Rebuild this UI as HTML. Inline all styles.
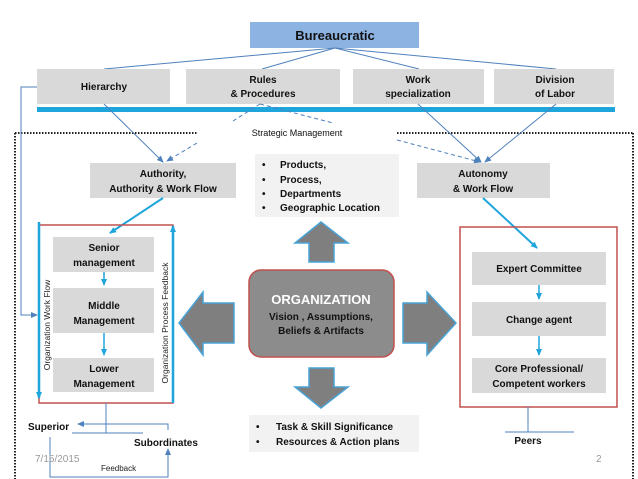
<!DOCTYPE html>
<html><head><meta charset="utf-8"><style>
html,body{margin:0;padding:0;background:#fff;}
svg{display:block;font-family:"Liberation Sans",Arial,sans-serif;}
.b{font-weight:bold;font-size:10px;fill:#111;}
</style></head><body>
<svg width="638" height="479" viewBox="0 0 638 479" xmlns="http://www.w3.org/2000/svg">
<defs>
<marker id="a" markerWidth="8" markerHeight="8" refX="6" refY="3" orient="auto" markerUnits="userSpaceOnUse"><path d="M0,0 L7,3 L0,6 z" fill="#4f81bd"/></marker>
<marker id="c" markerWidth="8" markerHeight="8" refX="6" refY="3" orient="auto" markerUnits="userSpaceOnUse"><path d="M0,0 L7,3 L0,6 z" fill="#1ea5dc"/></marker>
</defs>
<!-- dotted frame -->
<g stroke="#222" stroke-width="2" stroke-dasharray="1.5,1.5" fill="none">
<line x1="15" y1="133" x2="197" y2="133"/><line x1="397" y1="133" x2="633" y2="133"/>
<line x1="15" y1="133" x2="15" y2="479"/><line x1="633" y1="133" x2="633" y2="479"/>
</g>
<!-- top -->
<rect x="250" y="22" width="169" height="26" fill="#8db3e2"/>
<text x="335" y="40" text-anchor="middle" font-weight="bold" font-size="13" fill="#111">Bureaucratic</text>
<g stroke="#4f81bd" stroke-width="1" fill="none">
<line x1="335" y1="48" x2="104" y2="69"/><line x1="335" y1="48" x2="262" y2="69"/>
<line x1="335" y1="48" x2="419" y2="69"/><line x1="335" y1="48" x2="556" y2="69"/>
</g>
<g fill="#d9d9d9">
<rect x="37" y="69" width="133" height="35"/><rect x="186" y="69" width="154" height="35"/>
<rect x="353" y="69" width="131" height="35"/><rect x="494" y="69" width="120" height="35"/>
</g>
<text class="b" x="104" y="90" text-anchor="middle">Hierarchy</text>
<text class="b" x="263" y="83" text-anchor="middle">Rules</text><text class="b" x="263" y="97" text-anchor="middle">&amp; Procedures</text>
<text class="b" x="418" y="83" text-anchor="middle">Work</text><text class="b" x="418" y="97" text-anchor="middle">specialization</text>
<text class="b" x="555" y="83" text-anchor="middle">Division</text><text class="b" x="555" y="97" text-anchor="middle">of Labor</text>
<rect x="37" y="107" width="578" height="5" fill="#1ea5dc"/>
<text x="297" y="136" text-anchor="middle" font-size="9" fill="#111">Strategic Management</text>
<!-- connectors -->
<g stroke="#4f81bd" stroke-width="1" fill="none">
<line x1="104" y1="104" x2="163" y2="162" marker-end="url(#a)"/>
<line x1="418" y1="104" x2="481" y2="162" marker-end="url(#a)"/>
<line x1="556" y1="104" x2="485" y2="162" marker-end="url(#a)"/>
<g stroke-dasharray="4,3">
<line x1="197" y1="143" x2="167" y2="161" marker-end="url(#a)"/>
<line x1="260" y1="104" x2="233" y2="121"/><line x1="260" y1="104" x2="333" y2="123"/>
<line x1="397" y1="140" x2="480" y2="162" marker-end="url(#a)"/>
</g>
<polyline points="37,87 21,87 21,315 37,315" marker-end="url(#a)"/>
</g>
<!-- second row -->
<rect x="90" y="163" width="146" height="35" fill="#d9d9d9"/>
<text class="b" x="163" y="177" text-anchor="middle">Authority,</text><text class="b" x="163" y="192" text-anchor="middle">Authority &amp; Work Flow</text>
<rect x="417" y="163" width="133" height="35" fill="#d9d9d9"/>
<text class="b" x="483" y="177" text-anchor="middle">Autonomy</text><text class="b" x="483" y="192" text-anchor="middle">&amp; Work Flow</text>
<rect x="255" y="154" width="144" height="63" fill="#f2f2f2"/>
<g class="b"><text x="262" y="168">•</text><text x="280" y="168">Products,</text>
<text x="262" y="183">•</text><text x="280" y="183">Process,</text>
<text x="262" y="197">•</text><text x="280" y="197">Departments</text>
<text x="262" y="211">•</text><text x="280" y="211">Geographic Location</text></g>
<g stroke="#1ea5dc" stroke-width="2" fill="none">
<line x1="163" y1="198" x2="110" y2="233" marker-end="url(#c)"/>
<line x1="483" y1="198" x2="537" y2="248" marker-end="url(#c)"/>
</g>
<!-- left panel -->
<rect x="39" y="225" width="134" height="178" fill="none" stroke="#c0504d" stroke-width="1.5"/>
<g stroke="#1ea5dc" stroke-width="2.5" fill="none">
<line x1="39" y1="222" x2="39" y2="398" marker-end="url(#c)"/>
<line x1="173" y1="403" x2="173" y2="226" marker-end="url(#c)"/>
</g>
<g fill="#d9d9d9"><rect x="53" y="237" width="101" height="35"/><rect x="53" y="288" width="101" height="45"/><rect x="53" y="358" width="101" height="34"/></g>
<text class="b" x="104" y="251" text-anchor="middle">Senior</text><text class="b" x="104" y="266" text-anchor="middle">management</text>
<text class="b" x="104" y="309" text-anchor="middle">Middle</text><text class="b" x="104" y="324" text-anchor="middle">Management</text>
<text class="b" x="104" y="372" text-anchor="middle">Lower</text><text class="b" x="104" y="387" text-anchor="middle">Management</text>
<g stroke="#1ea5dc" stroke-width="1.5"><line x1="104" y1="272" x2="104" y2="285" marker-end="url(#c)"/><line x1="104" y1="333" x2="104" y2="355" marker-end="url(#c)"/></g>
<text transform="translate(50,325) rotate(-90)" text-anchor="middle" font-size="8.5" fill="#222">Organization Work Flow</text>
<text transform="translate(168,323) rotate(-90)" text-anchor="middle" font-size="8.5" fill="#222">Organization Process Feedback</text>
<!-- bottom left -->
<text class="b" x="28" y="430">Superior</text>
<text class="b" x="134" y="446">Subordinates</text>
<g stroke="#4f81bd" stroke-width="1" fill="none">
<polyline points="168,430 168,424 78,424" marker-end="url(#a)"/>
<polyline points="106,403 106,433"/><line x1="72" y1="433" x2="143" y2="433"/>
<polyline points="50,437 50,477 168,477 168,449" marker-end="url(#a)"/>
</g>
<text x="35" y="462" font-size="10" fill="#999">7/15/2015</text>
<text x="101" y="471" font-size="8" fill="#222">Feedback</text>
<text x="596" y="462" font-size="10" fill="#999">2</text>
<!-- center -->
<g fill="#7f7f7f" stroke="#4aa3d6" stroke-width="1.5">
<path d="M321,222 L348,243 L334,243 L334,262 L309,262 L309,243 L295,243 Z"/>
<path d="M321,408 L348,387 L334,387 L334,368 L309,368 L309,387 L295,387 Z"/>
<path d="M179,323 L203,292 L203,303 L234,303 L234,343 L203,343 L203,355 Z"/>
<path d="M456,323 L427,292 L427,303 L403,303 L403,343 L427,343 L427,355 Z"/>
</g>
<rect x="249" y="270" width="145" height="87" rx="12" fill="#8c8c8c" stroke="#c0504d" stroke-width="1.5"/>
<text x="321" y="304" text-anchor="middle" font-weight="bold" font-size="13" fill="#fff">ORGANIZATION</text>
<text class="b" x="321" y="320" text-anchor="middle">Vision , Assumptions,</text>
<text class="b" x="321" y="334" text-anchor="middle">Beliefs &amp; Artifacts</text>
<rect x="249" y="415" width="170" height="37" fill="#f2f2f2"/>
<g class="b"><text x="256" y="430">•</text><text x="276" y="430">Task &amp; Skill Significance</text>
<text x="256" y="445">•</text><text x="276" y="445">Resources &amp; Action plans</text></g>
<!-- right panel -->
<rect x="460" y="227" width="157" height="180" fill="none" stroke="#c0504d" stroke-width="1.5"/>
<g fill="#d9d9d9"><rect x="472" y="252" width="134" height="33"/><rect x="472" y="302" width="134" height="34"/><rect x="472" y="358" width="134" height="35"/></g>
<text class="b" x="539" y="272" text-anchor="middle">Expert Committee</text>
<text class="b" x="539" y="323" text-anchor="middle">Change agent</text>
<text class="b" x="539" y="372" text-anchor="middle">Core Professional/</text><text class="b" x="539" y="387" text-anchor="middle">Competent workers</text>
<g stroke="#1ea5dc" stroke-width="1.5"><line x1="539" y1="285" x2="539" y2="299" marker-end="url(#c)"/><line x1="539" y1="336" x2="539" y2="355" marker-end="url(#c)"/></g>
<g stroke="#4f81bd" stroke-width="1"><line x1="528" y1="407" x2="528" y2="432"/><line x1="505" y1="432" x2="574" y2="432"/></g>
<text class="b" x="528" y="444" text-anchor="middle">Peers</text>
</svg>
</body></html>
